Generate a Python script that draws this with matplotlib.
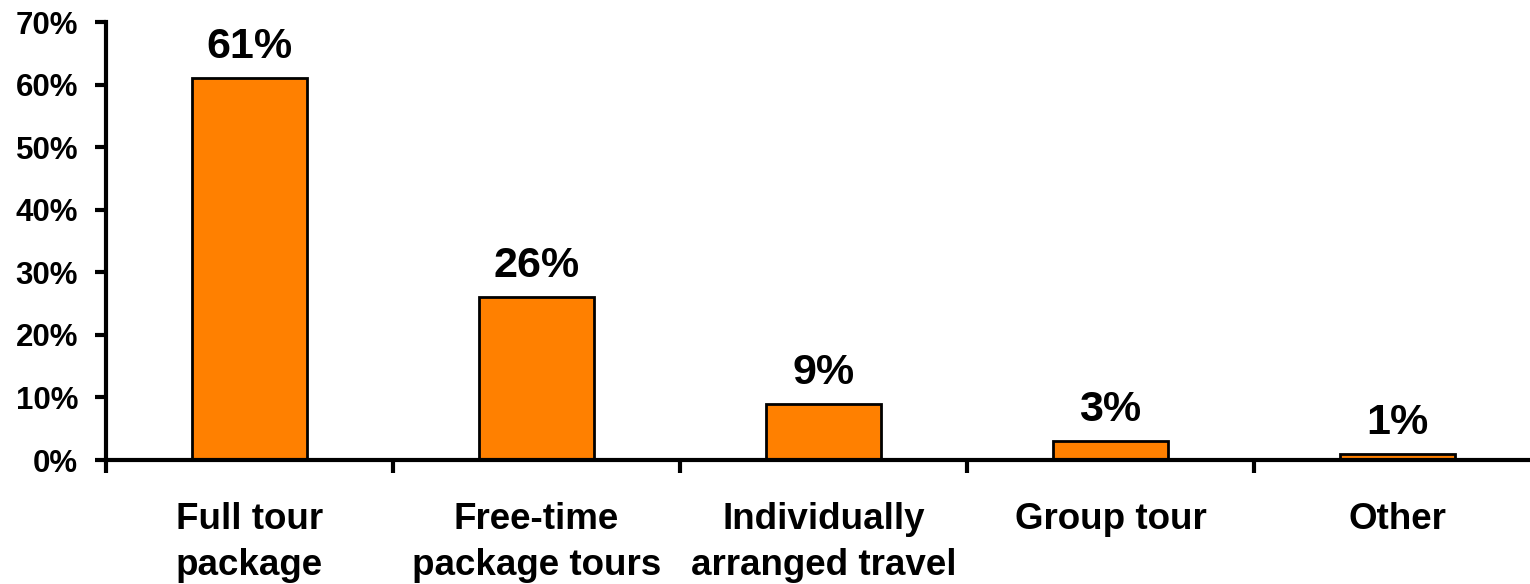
import matplotlib
matplotlib.use("Agg")
import matplotlib.pyplot as plt
import numpy as np

categories = ["Full tour\npackage", "Free-time\npackage tours", "Individually\narranged travel",
              "Group tour", "Other"]
values = [61, 26, 9, 3, 1]
yticks = [0, 10, 20, 30, 40, 50, 60, 70]

plt.rcParams["font.family"] = ["Liberation Sans", "DejaVu Sans"]
plt.rcParams["font.weight"] = "bold"

fig = plt.figure(figsize=(15.3, 5.84), dpi=100)
left, bottom = 106 / 1530, 1 - 460 / 584
ax = fig.add_axes([left, bottom, 1435 / 1530, (460 - 22) / 584])

x = np.arange(len(categories))
ax.bar(x, values, width=0.4, color="#FF8000", edgecolor="black", linewidth=2, zorder=2)
for xi, v in zip(x, values):
    ax.annotate(f"{v}%", (xi, v), xytext=(0, 8), textcoords="offset points",
                ha="center", va="bottom", fontsize=31, fontweight="bold")

ax.set_xlim(-0.5, len(categories) - 0.5)
ax.set_ylim(0, 70)
ax.set_yticks(yticks)
ax.set_yticklabels([f"{t}%" for t in yticks], fontsize=22.5, fontweight="bold")
ax.set_xticks(x)
ax.set_xticklabels(categories, fontsize=26.5, fontweight="bold", linespacing=1.42)
ax.set_xticks(np.arange(-0.5, len(categories)), minor=True)
ax.tick_params(axis="x", which="major", length=0, pad=30)
ax.tick_params(axis="x", which="minor", length=9, width=3, direction="out")
ax.tick_params(axis="y", length=8, width=3, direction="out", pad=12)

for s in ["top", "right"]:
    ax.spines[s].set_visible(False)
for s in ["left", "bottom"]:
    ax.spines[s].set_linewidth(3)

fig.savefig("out.png", dpi=100)
